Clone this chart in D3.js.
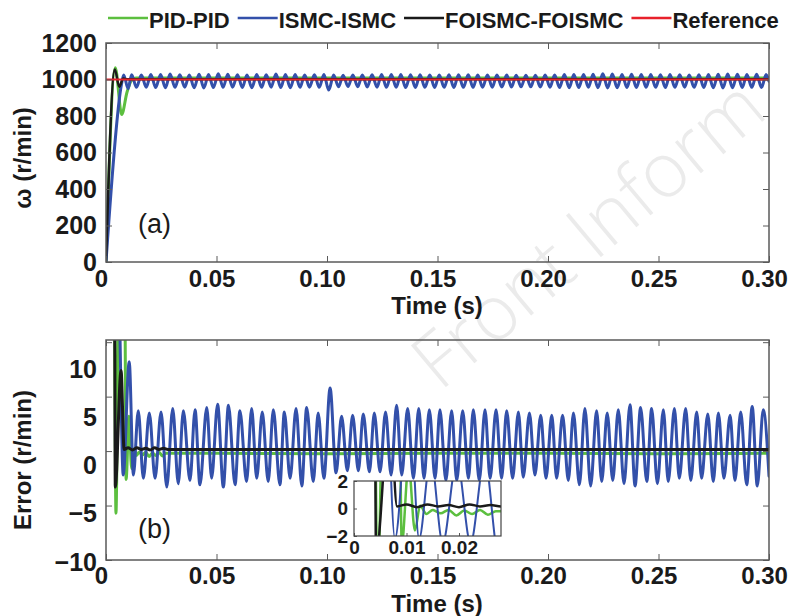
<!DOCTYPE html>
<html><head><meta charset="utf-8">
<script src="https://cdn.jsdelivr.net/npm/d3@7"></script>
<style>
body{margin:0;background:#fff;}
svg{display:block;font-family:"Liberation Sans",Arial,Helvetica,sans-serif;}
</style></head><body>
<svg id="chart" width="788" height="616"></svg>
<script>
// ---------------- data ----------------
const legendNames = ["PID-PID", "ISMC-ISMC", "FOISMC-FOISMC", "Reference"];
const timeTicks = [0, 0.05, 0.10, 0.15, 0.20, 0.25, 0.30];
const speedTicks = [0, 200, 400, 600, 800, 1000, 1200];
const errorTicks = [-10, -5, 0, 5, 10];
const insetTimeTicks = [0, 0.01, 0.02];
const insetErrorTicks = [-2, 0, 2];

// (a) speed, r/min  [time s, value]
const speedReference = [[0, 1000], [0.3, 1000]];
const speedPID = [[0,0],[0.0042,1065],[0.0071,808],[0.0095,930],[0.0115,995],[0.0135,1008],[0.05,1008],[0.1,1008],[0.15,1008],[0.2,1008],[0.25,1008],[0.3,1008]];
const speedFOISMC = [[0,0],[0.0040,1055],[0.0060,960],[0.0078,1005],[0.0095,1002],[0.1,1002],[0.2,1002],[0.3,1002]];
const speedISMC = [[0,0],[0.0071,980],[0.0080,1025],[0.0100,950],
[0.0116,1026],[0.0138,957],[0.0160,1025],[0.0182,958],[0.0203,1027],[0.0225,956],
[0.0247,1028],[0.0269,955],[0.0290,1030],[0.0312,957],[0.0334,1026],[0.0356,958],
[0.0377,1025],[0.0399,955],[0.0421,1029],[0.0443,954],[0.0464,1027],[0.0486,956],
[0.0508,1031],[0.0530,957],[0.0551,1029],[0.0573,958],[0.0595,1026],[0.0617,956],
[0.0638,1025],[0.0660,955],[0.0682,1027],[0.0704,957],[0.0725,1026],[0.0747,958],
[0.0769,1030],[0.0791,956],[0.0812,1028],[0.0834,955],[0.0856,1027],[0.0878,957],
[0.0899,1025],[0.0921,958],[0.0943,1026],[0.0965,957],[0.0986,1027],[0.1008,942],
[0.1030,1024],[0.1052,960],[0.1073,1023],[0.1095,961],[0.1117,1024],[0.1139,960],
[0.1160,1025],[0.1182,959],[0.1204,1026],[0.1226,958],[0.1247,1028],[0.1269,957],
[0.1291,1027],[0.1313,957],[0.1334,1027],[0.1356,956],[0.1378,1026],[0.1400,956],
[0.1421,1026],[0.1443,957],[0.1465,1025],[0.1487,956],[0.1508,1025],[0.1530,957],
[0.1552,1026],[0.1574,956],[0.1595,1026],[0.1617,957],[0.1639,1026],[0.1661,957],
[0.1682,1025],[0.1704,958],[0.1726,1025],[0.1748,958],[0.1769,1024],[0.1791,959],
[0.1813,1024],[0.1835,959],[0.1856,1023],[0.1878,960],[0.1900,1023],[0.1922,960],
[0.1943,1023],[0.1965,959],[0.1987,1024],[0.2009,958],[0.2030,1025],[0.2052,956],
[0.2074,1027],[0.2096,955],[0.2117,1028],[0.2139,956],[0.2161,1027],[0.2183,957],
[0.2204,1029],[0.2226,955],[0.2248,1031],[0.2270,954],[0.2291,1030],[0.2313,955],
[0.2335,1028],[0.2357,956],[0.2378,1029],[0.2400,956],[0.2422,1028],[0.2444,957],
[0.2465,1027],[0.2487,957],[0.2509,1026],[0.2531,956],[0.2552,1027],[0.2574,957],
[0.2596,1026],[0.2618,958],[0.2639,1025],[0.2661,957],[0.2683,1026],[0.2705,956],
[0.2726,1028],[0.2748,955],[0.2770,1029],[0.2792,954],[0.2813,1030],[0.2835,955],
[0.2857,1029],[0.2879,956],[0.2900,1028],[0.2922,957],[0.2944,1029],[0.2966,956],
[0.2987,1027],[0.3000,990]];

// (b) speed error, r/min  [time s, value]
const errorPID = [[0,40],[0.0038,14],[0.0045,-5.7],[0.0058,14],[0.0085,14],[0.0091,-2.6],[0.0104,3.2],[0.0116,-1.6],[0.0126,0.2],[0.0138,-0.4],[0.0150,-0.1],[0.0165,-0.35],[0.0180,-0.1],[0.0195,-0.5],[0.0210,-0.15],[0.0225,-0.4],[0.0240,-0.1],[0.0255,-0.45],[0.0270,-0.2],[0.05,-0.2],[0.1,-0.25],[0.15,-0.2],[0.2,-0.2],[0.25,-0.25],[0.3,-0.2]];
const errorFOISMC = [[0,40],[0.0039,14],[0.0042,-3.3],[0.0068,7.4],[0.0082,0.15],[0.010,0.3],[0.012,0.1],[0.014,0.3],[0.016,0.15],[0.018,0.25],[0.020,0.1],[0.022,0.3],[0.024,0.15],[0.026,0.25],[0.028,0.15],[0.1,0.15],[0.2,0.15],[0.3,0.15]];
const errorISMC = [[0,60],[0.0060,14],[0.0078,-2.2],[0.0105,8.2],[0.0124,-2.2],
[0.0146,3.7],[0.0169,-2.5],[0.0196,3.5],[0.0222,-2.5],[0.0249,3.6],[0.0275,-3.3],
[0.0302,3.9],[0.0327,-3.0],[0.0350,3.7],[0.0380,-2.7],[0.0403,3.8],[0.0425,-3.1],
[0.0456,4.0],[0.0478,-2.5],[0.0505,4.3],[0.0531,-3.3],[0.0554,4.2],[0.0584,-3.1],
[0.0606,3.7],[0.0636,-2.8],[0.0659,3.9],[0.0682,-2.5],[0.0707,3.6],[0.0734,-2.8],
[0.0757,3.8],[0.0787,-3.1],[0.0807,3.6],[0.0833,-2.5],[0.0860,3.9],[0.0886,-3.2],
[0.0908,4.0],[0.0938,-2.8],[0.0960,3.5],[0.0986,-2.5],[0.1014,5.8],[0.1041,-2.0],
[0.1066,3.2],[0.1092,-1.8],[0.1116,3.3],[0.1142,-1.8],[0.1164,3.4],[0.1192,-1.9],
[0.1214,3.5],[0.1240,-1.9],[0.1265,3.6],[0.1290,-2.2],[0.1315,4.2],[0.1338,-2.2],
[0.1365,3.9],[0.1391,-2.5],[0.1415,3.9],[0.1439,-2.5],[0.1463,3.8],[0.1489,-2.5],
[0.1511,3.8],[0.1538,-2.7],[0.1564,3.7],[0.1587,-2.7],[0.1614,3.7],[0.1640,-2.5],
[0.1662,3.8],[0.1689,-2.7],[0.1715,3.8],[0.1738,-2.5],[0.1765,3.8],[0.1790,-2.5],
[0.1813,3.7],[0.1840,-2.5],[0.1866,3.6],[0.1888,-2.4],[0.1916,3.5],[0.1941,-2.2],
[0.1967,3.3],[0.1991,-2.5],[0.2017,3.3],[0.2039,-2.5],[0.2066,3.3],[0.2092,-2.7],
[0.2115,3.5],[0.2142,-3.1],[0.2167,3.9],[0.2193,-3.2],[0.2220,3.7],[0.2243,-2.8],
[0.2268,3.5],[0.2293,-2.7],[0.2318,3.8],[0.2344,-3.0],[0.2371,4.25],[0.2394,-3.2],
[0.2419,4.0],[0.2447,-2.8],[0.2469,3.9],[0.2495,-3.0],[0.2522,3.8],[0.2544,-2.8],
[0.2572,3.9],[0.2594,-2.5],[0.2623,3.9],[0.2646,-2.7],[0.2673,3.6],[0.2695,-2.5],
[0.2723,3.4],[0.2748,-2.8],[0.2771,3.5],[0.2796,-2.5],[0.2824,3.3],[0.2846,-2.7],
[0.2872,3.6],[0.2899,-3.1],[0.2924,4.1],[0.2947,-3.2],[0.2974,3.8],[0.3000,-2.3]];

// ---------------- styles / layout ----------------
const COL = {pid:"#5cbf3f", ismc:"#3350aa", foismc:"#1a1a1a", ref:"#e8212b", text:"#1a1a1a", frame:"#5a5a5a"};
const FONT_TICK = 25, FONT_XTICK = 24, FONT_TITLE = 24, FONT_LEG = 22, FONT_INSET = 19;

const svg = d3.select("#chart");

// watermark
svg.append("text").attr("transform","translate(440,392) rotate(-40)")
  .attr("font-size",76).attr("fill","#ebebeb").attr("font-weight",300)
  .attr("font-family","'Open Sans','Liberation Sans',sans-serif")
  .text("Front Inform");

const fmtTime = d => d === 0 ? "0" : d3.format(".2f")(d);
const fmtNum = d => d < 0 ? "\u2212" + Math.abs(d) : String(d);
const fmtInt = d3.format("d");

function clip(id, x0, y0, x1, y1){
  svg.append("clipPath").attr("id",id).append("rect")
    .attr("x",x0).attr("y",y0).attr("width",x1-x0).attr("height",y1-y0);
}
function drawLine(g, data, x, y, color, w){
  g.append("path").datum(data)
    .attr("fill","none").attr("stroke",color).attr("stroke-width",w)
    .attr("stroke-linejoin","round").attr("stroke-linecap","round")
    .attr("d", d3.line().x(d=>x(d[0])).y(d=>y(d[1])).curve(d3.curveMonotoneX));
}
function styleAxis(g, fs, dx){
  g.select(".domain").remove();
  g.selectAll(".tick line").attr("stroke",COL.frame).attr("stroke-width",1);
  g.selectAll("text").attr("fill",COL.text).attr("font-size",fs)
    .attr("font-weight","bold").attr("font-family","'Liberation Sans',Arial,sans-serif");
  if (dx) g.selectAll("text").attr("dx",dx);
  return g;
}

// ---------------- panel (a) ----------------
const xA = d3.scaleLinear().domain([0,0.3]).range([106,769]);
const yA = d3.scaleLinear().domain([0,1200]).range([262,43]);
clip("clipA",106,43,769,262);
const gA = svg.append("g").attr("clip-path","url(#clipA)");
drawLine(gA, speedPID, xA, yA, COL.pid, 3);
drawLine(gA, speedISMC, xA, yA, COL.ismc, 3);
drawLine(gA, speedFOISMC, xA, yA, COL.foismc, 2.5);
drawLine(gA, speedReference, xA, yA, COL.ref, 2);

styleAxis(svg.append("g").attr("transform","translate(106,0)")
  .call(d3.axisLeft(yA).tickValues(speedTicks).tickSize(-6).tickPadding(9).tickFormat(fmtInt)), FONT_TICK);
styleAxis(svg.append("g").attr("transform","translate(769,0)")
  .call(d3.axisRight(yA).tickValues(speedTicks).tickSize(-6).tickFormat("")), FONT_TICK);
styleAxis(svg.append("g").attr("transform","translate(0,262)")
  .call(d3.axisBottom(xA).tickValues(timeTicks).tickSize(-6).tickPadding(8).tickFormat(fmtTime)), FONT_XTICK, -5);
styleAxis(svg.append("g").attr("transform","translate(0,43)")
  .call(d3.axisTop(xA).tickValues(timeTicks).tickSize(-6).tickFormat("")), FONT_TICK);
svg.append("rect").attr("x",106).attr("y",43).attr("width",663).attr("height",219)
  .attr("fill","none").attr("stroke",COL.frame).attr("stroke-width",1.5);

svg.append("text").attr("x",138).attr("y",233).attr("font-size",27).attr("fill",COL.text).text("(a)");
svg.append("text").attr("x",437).attr("y",314).attr("text-anchor","middle")
  .attr("font-size",FONT_TITLE).attr("font-weight","bold").attr("fill",COL.text).text("Time (s)");
svg.append("text").attr("transform","translate(31,158) rotate(-90)").attr("text-anchor","middle")
  .attr("font-size",FONT_TITLE).attr("font-weight","bold").attr("fill",COL.text).text("\u03c9 (r/min)");

// ---------------- panel (b) ----------------
const xB = d3.scaleLinear().domain([0,0.3]).range([106,769]);
const yB = d3.scaleLinear().domain([-10,10.2]).range([560,340]);
const yBLabel = d3.scaleLinear().domain([-10,10]).range([562,369]);
clip("clipB",106,340,769,560);
const gB = svg.append("g").attr("clip-path","url(#clipB)");
drawLine(gB, errorPID, xB, yB, COL.pid, 3);
drawLine(gB, errorISMC, xB, yB, COL.ismc, 3);
drawLine(gB, errorFOISMC, xB, yB, COL.foismc, 3);

styleAxis(svg.append("g").attr("transform","translate(106,0)")
  .call(d3.axisLeft(yB).tickValues(errorTicks).tickSize(-6).tickFormat("")), FONT_TICK);
styleAxis(svg.append("g").attr("transform","translate(106,0)")
  .call(d3.axisLeft(yBLabel).tickValues(errorTicks).tickSize(0).tickPadding(9).tickFormat(fmtNum)), FONT_TICK);
styleAxis(svg.append("g").attr("transform","translate(769,0)")
  .call(d3.axisRight(yB).tickValues(errorTicks).tickSize(-6).tickFormat("")), FONT_TICK);
styleAxis(svg.append("g").attr("transform","translate(0,560)")
  .call(d3.axisBottom(xB).tickValues(timeTicks).tickSize(-6).tickPadding(7).tickFormat(fmtTime)), FONT_XTICK, -5);
styleAxis(svg.append("g").attr("transform","translate(0,340)")
  .call(d3.axisTop(xB).tickValues(timeTicks).tickSize(-6).tickFormat("")), FONT_TICK);
svg.append("rect").attr("x",106).attr("y",340).attr("width",663).attr("height",220)
  .attr("fill","none").attr("stroke",COL.frame).attr("stroke-width",1.5);

svg.append("text").attr("x",138).attr("y",538).attr("font-size",27).attr("fill",COL.text).text("(b)");
svg.append("text").attr("x",437).attr("y",612).attr("text-anchor","middle")
  .attr("font-size",FONT_TITLE).attr("font-weight","bold").attr("fill",COL.text).text("Time (s)");
svg.append("text").attr("transform","translate(31,460) rotate(-90)").attr("text-anchor","middle")
  .attr("font-size",FONT_TITLE).attr("font-weight","bold").attr("fill",COL.text).text("Error (r/min)");

// ---------------- inset ----------------
const xI = d3.scaleLinear().domain([0,0.028]).range([354,501]);
const yI = d3.scaleLinear().domain([-2,2]).range([536,481]);
svg.append("rect").attr("x",354).attr("y",481).attr("width",147).attr("height",55).attr("fill","#fff");
clip("clipI",354,481,501,536);
const gI = svg.append("g").attr("clip-path","url(#clipI)");
drawLine(gI, errorPID, xI, yI, COL.pid, 2.5);
drawLine(gI, errorISMC, xI, yI, COL.ismc, 2);
drawLine(gI, errorFOISMC, xI, yI, COL.foismc, 2.5);
styleAxis(svg.append("g").attr("transform","translate(354,0)")
  .call(d3.axisLeft(yI).tickValues(insetErrorTicks).tickSize(-3).tickPadding(6).tickFormat(fmtNum)), FONT_INSET);
styleAxis(svg.append("g").attr("transform","translate(0,536)")
  .call(d3.axisBottom(xI).tickValues(insetTimeTicks).tickSize(-3).tickPadding(5).tickFormat(fmtTime)), FONT_INSET);
svg.append("rect").attr("x",354).attr("y",481).attr("width",147).attr("height",55)
  .attr("fill","none").attr("stroke","#444").attr("stroke-width",1.2);

// ---------------- legend ----------------
const legendColors = [COL.pid, COL.ismc, COL.foismc, COL.ref];
let lx = 108;
legendNames.forEach((name, i) => {
  svg.append("line").attr("x1",lx).attr("x2",lx+40).attr("y1",18).attr("y2",18)
    .attr("stroke",legendColors[i]).attr("stroke-width",2.5);
  const t = svg.append("text").attr("x",lx+41).attr("y",28)
    .attr("font-size",FONT_LEG).attr("font-weight","bold").attr("fill",COL.text).text(name);
  lx = lx + 41 + t.node().getComputedTextLength() + 8;
});
</script>
</body></html>
